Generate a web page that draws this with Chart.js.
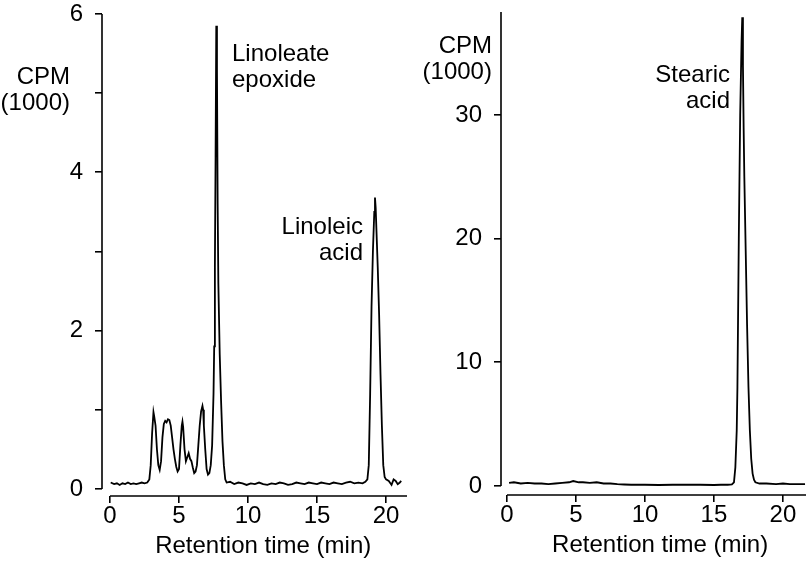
<!DOCTYPE html>
<html>
<head>
<meta charset="utf-8">
<script src="https://cdn.jsdelivr.net/npm/chart.js@4.4.1/dist/chart.umd.min.js"></script>
<style>
	body { margin: 0; background: #fff; }
	#wrap { position: relative; width: 806px; height: 562px; }
	canvas { position: absolute; top: 0; }
</style>
</head>
<body>
<div id="wrap">
	<canvas id="leftChart" width="420" height="562" style="left:0px"></canvas>
	<canvas id="rightChart" width="386" height="562" style="left:420px"></canvas>
</div>
<script>

// Left chromatogram - linoleate epoxide / linoleic acid (time in min, CPM x 1000)
var leftTime = [0.05, 0.3, 0.5, 0.7, 0.9, 1.1, 1.3, 1.5, 1.7, 1.9, 2.1, 2.3, 2.5, 2.7, 2.85, 2.95,
	3.05, 3.15, 3.2, 3.3, 3.4, 3.5, 3.6, 3.7, 3.8, 3.9, 4.0, 4.1, 4.2, 4.3, 4.4, 4.5, 4.6, 4.7, 4.8, 4.9,
	5.0, 5.1, 5.2, 5.25, 5.3, 5.4, 5.5, 5.6, 5.7, 5.8, 5.9, 6.0, 6.1, 6.2, 6.3, 6.4, 6.5, 6.6, 6.7, 6.75,
	6.8, 6.9, 7.0, 7.1, 7.2, 7.3, 7.4, 7.5, 7.55, 7.6, 7.65, 7.7, 7.75, 7.8, 7.85, 7.95, 8.05, 8.15, 8.25,
	8.35, 8.45, 8.7, 9.0, 9.3, 9.6, 9.9, 10.2, 10.5, 10.8, 11.1, 11.4, 11.7, 12.0, 12.3, 12.6, 12.9, 13.2,
	13.5, 13.8, 14.1, 14.4, 14.7, 15.0, 15.3, 15.6, 15.9, 16.2, 16.5, 16.8, 17.1, 17.4, 17.7, 18.0, 18.3,
	18.5, 18.65, 18.75, 18.85, 18.95, 19.05, 19.15, 19.2, 19.25, 19.3, 19.4, 19.5, 19.6, 19.7, 19.8, 19.9,
	20.0, 20.2, 20.4, 20.55, 20.7, 20.85, 21.0, 21.1];
var leftCpm = [0.08, 0.06, 0.07, 0.05, 0.07, 0.06, 0.08, 0.06, 0.07, 0.06, 0.07, 0.08, 0.07, 0.08, 0.12, 0.3,
	0.7, 0.97, 0.92, 0.8, 0.5, 0.3, 0.24, 0.35, 0.65, 0.82, 0.86, 0.84, 0.88, 0.87, 0.8, 0.65, 0.5, 0.38, 0.28, 0.22,
	0.25, 0.55, 0.8, 0.85, 0.78, 0.5, 0.35, 0.4, 0.45, 0.38, 0.35, 0.27, 0.2, 0.22, 0.3, 0.55, 0.8, 0.98, 1.05, 1.0,
	0.8, 0.5, 0.25, 0.18, 0.2, 0.3, 0.55, 1.2, 1.8, 2.8, 4.2, 5.85, 5.3, 3.6, 2.6, 1.7, 1.1, 0.6, 0.3,
	0.12, 0.08, 0.09, 0.06, 0.08, 0.07, 0.05, 0.07, 0.06, 0.08, 0.06, 0.05, 0.07, 0.06, 0.08, 0.07, 0.05, 0.06,
	0.08, 0.07, 0.06, 0.08, 0.07, 0.06, 0.08, 0.07, 0.06, 0.08, 0.07, 0.06, 0.08, 0.09, 0.07, 0.08, 0.07,
	0.09, 0.12, 0.3, 1.2, 2.3, 3.0, 3.5, 3.68, 3.55, 3.3, 2.8, 2.2, 1.45, 0.8, 0.3, 0.15,
	0.12, 0.1, 0.05, 0.12, 0.1, 0.06, 0.08, 0.1];

// Right chromatogram - stearic acid
var rightTime = [0.15, 0.5, 1.0, 1.5, 2.0, 2.5, 3.0, 3.5, 4.0, 4.5, 4.8, 5.2, 5.5, 6.0, 6.5, 7.0, 7.5, 8.0,
	8.5, 9.0, 10.0, 11.0, 12.0, 13.0, 14.0, 15.0, 15.5, 16.0, 16.3, 16.45, 16.55, 16.65, 16.7, 16.8, 16.9,
	17.0, 17.05, 17.1, 17.15, 17.2, 17.3, 17.4, 17.5, 17.6, 17.7, 17.8, 17.9, 18.0, 18.3, 18.8, 19.5,
	20.0, 20.5, 21.0, 21.6];
var rightCpm = [0.25, 0.3, 0.2, 0.25, 0.2, 0.2, 0.15, 0.2, 0.25, 0.3, 0.4, 0.3, 0.3, 0.25, 0.3, 0.2, 0.2, 0.15,
	0.12, 0.1, 0.1, 0.08, 0.1, 0.1, 0.1, 0.08, 0.1, 0.1, 0.12, 0.3, 1.5, 4.5, 8, 20, 30,
	36, 37.9, 34, 29, 25, 19, 13, 8, 4.5, 2.2, 1.0, 0.5, 0.3, 0.2, 0.2, 0.15,
	0.2, 0.15, 0.15, 0.15];

// Tick values
var timeTicks = [0, 5, 10, 15, 20];
var leftCpmTicks = [0, 1, 2, 3, 4, 5, 6];
var rightCpmTicks = [0, 10, 20, 30];

var FONT = '24px "Liberation Sans", Arial, Helvetica, sans-serif';

function $id(id){ return document.getElementById(id); }

function toPoints(xs, ys){
	var pts = [];
	for(var i = 0; i < xs.length; i++){
		pts.push({x: xs[i], y: ys[i]});
	}
	return pts;
}

// axis lines that start at zero (detached axes) + text notes
var axisPlugin = {
	id: 'detachedAxes',
	afterDraw: function(chart, args, opts){
		var ctx = chart.ctx, xs = chart.scales.x, ys = chart.scales.y, area = chart.chartArea;
		ctx.save();
		ctx.strokeStyle = '#000';
		ctx.lineWidth = 1.6;
		ctx.beginPath();
		ctx.moveTo(area.left, ys.getPixelForValue(0));
		ctx.lineTo(area.left, ys.getPixelForValue(ys.max));
		ctx.moveTo(xs.getPixelForValue(0), area.bottom);
		ctx.lineTo(xs.getPixelForValue(xs.max), area.bottom);
		ctx.stroke();

		ctx.fillStyle = '#000';
		ctx.font = FONT;
		ctx.textBaseline = 'alphabetic';
		opts.notes.forEach(function(n){
			ctx.textAlign = n.align;
			n.lines.forEach(function(line, i){
				ctx.fillText(line, xs.getPixelForValue(n.x), ys.getPixelForValue(n.y) + i * 26);
			});
		});
		ctx.textAlign = 'center';
		ctx.fillText('Retention time (min)', xs.getPixelForValue(11.1), area.bottom + 57);
		ctx.restore();
	}
};

function makeOptions(cfg){
	return {
		responsive: false,
		animation: false,
		layout: { padding: cfg.padding },
		plugins: {
			legend: { display: false },
			tooltip: { enabled: false },
			detachedAxes: { notes: cfg.notes }
		},
		scales: {
			x: {
				type: 'linear',
				min: cfg.xMin,
				max: cfg.xMax,
				afterBuildTicks: function(scale){
					scale.ticks = timeTicks.map(function(v){ return {value: v}; });
				},
				afterFit: function(scale){
					scale.height = cfg.xHeight;
					scale.paddingLeft = 0;
					scale.paddingRight = 0;
				},
				grid: { drawOnChartArea: false, tickLength: 7, color: '#000', lineWidth: 1.6 },
				border: { display: false },
				ticks: { color: '#000', padding: 1, maxRotation: 0, font: { family: '"Liberation Sans", Arial, sans-serif', size: 24, lineHeight: 1 } }
			},
			y: {
				min: cfg.yMin,
				max: cfg.yMax,
				afterBuildTicks: function(scale){
					scale.ticks = cfg.yTicks.map(function(v){ return {value: v}; });
				},
				afterFit: function(scale){
					scale.width = cfg.yWidth;
					scale.paddingTop = 0;
					scale.paddingBottom = 0;
				},
				grid: { drawOnChartArea: false, tickLength: 7, color: '#000', lineWidth: 1.6 },
				border: { display: false },
				ticks: {
					color: '#000',
					padding: 12,
					font: { family: '"Liberation Sans", Arial, sans-serif', size: 24, lineHeight: 1 },
					callback: cfg.yLabel
				}
			}
		}
	};
}

var lineStyle = {
	borderColor: '#000',
	borderWidth: 1.8,
	pointRadius: 0,
	tension: 0,
	fill: false
};

new Chart($id('leftChart'), {
	type: 'line',
	data: { datasets: [Object.assign({ data: toPoints(leftTime, leftCpm) }, lineStyle)] },
	options: makeOptions({
		padding: { left: 0, right: 13, top: 14, bottom: 0 },
		xMin: -0.58, xMax: 21.52, xHeight: 66,
		yMin: -0.09, yMax: 6, yWidth: 102,
		yTicks: leftCpmTicks,
		yLabel: function(v){ return v % 2 === 0 ? v : ''; },
		notes: [
			{ lines: ['CPM', '(1000)'], x: -2.9, y: 5.12, align: 'right' },
			{ lines: ['Linoleate', 'epoxide'], x: 8.84, y: 5.41, align: 'left' },
			{ lines: ['Linoleic', 'acid'], x: 18.33, y: 3.22, align: 'right' }
		]
	}),
	plugins: [axisPlugin]
});

new Chart($id('rightChart'), {
	type: 'line',
	data: { datasets: [Object.assign({ data: toPoints(rightTime, rightCpm) }, lineStyle)] },
	options: makeOptions({
		padding: { left: 0, right: 0, top: 12, bottom: 0 },
		xMin: -0.435, xMax: 21.67, xHeight: 67,
		yMin: -0.73, yMax: 38.32, yWidth: 81,
		yTicks: rightCpmTicks,
		yLabel: function(v){ return v; },
		notes: [
			{ lines: ['CPM', '(1000)'], x: -1.09, y: 35.0, align: 'right' },
			{ lines: ['Stearic', 'acid'], x: 16.16, y: 32.66, align: 'right' }
		]
	}),
	plugins: [axisPlugin]
});

</script>
</body>
</html>
